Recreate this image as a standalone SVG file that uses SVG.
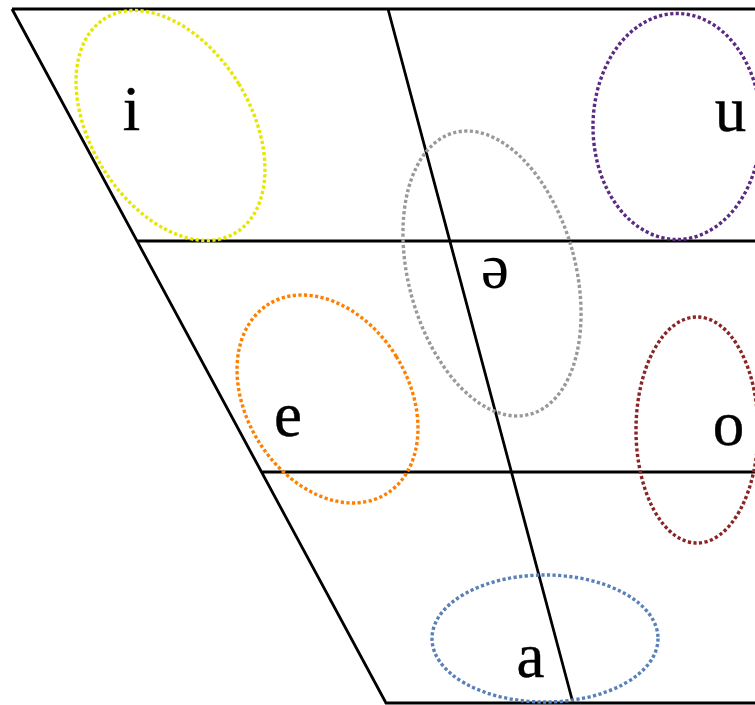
<svg xmlns="http://www.w3.org/2000/svg" width="755" height="705" viewBox="0 0 755 705">
<style>
.ln{stroke:#000;stroke-width:2.8;fill:none;stroke-linecap:butt}
.ov{fill:none;stroke-width:3.4;stroke-dasharray:3.2 2.4}
.lb{font-family:"Liberation Serif","Times New Roman",serif;font-size:63px;fill:#000;stroke:#000;stroke-width:0.4;text-anchor:middle}
</style>
<rect width="755" height="705" fill="#fff"/>
<g id="chart">
<path class="ln" d="M12 9 H755 M12 9 L386 703 H755 M137 241 H755 M262 472 H755 M388 9 L573 703"/>
</g>
<g id="node-i">
<ellipse class="ov" stroke="#e6e600" cx="170.5" cy="125.5" rx="80" ry="125.5" transform="rotate(-31.3 170.5 125.5)"/>
<text class="lb" x="131.5" y="130">i</text>
</g>
<g id="node-u">
<ellipse class="ov" stroke="#5b2a82" cx="677" cy="126.5" rx="84" ry="113"/>
<text class="lb" x="730.5" y="131">u</text>
</g>
<g id="node-schwa">
<ellipse class="ov" stroke="#999999" cx="492" cy="273.5" rx="83.5" ry="145.8" transform="rotate(-15 492 273.5)"/>
<text class="lb" x="495" y="288" style="stroke-width:0">ə</text>
</g>
<g id="node-e">
<ellipse class="ov" stroke="#ff8000" cx="327.5" cy="399" rx="80.9" ry="111.6" transform="rotate(-31.8 327.5 399)"/>
<text class="lb" x="288" y="436">e</text>
</g>
<g id="node-o">
<ellipse class="ov" stroke="#8b2525" cx="697" cy="430" rx="61" ry="113"/>
<text class="lb" x="728.5" y="445">o</text>
</g>
<g id="node-a">
<ellipse class="ov" stroke="#5a80b8" cx="545" cy="638.5" rx="113" ry="63.5"/>
<text class="lb" x="530.5" y="677">a</text>
</g>
</svg>
